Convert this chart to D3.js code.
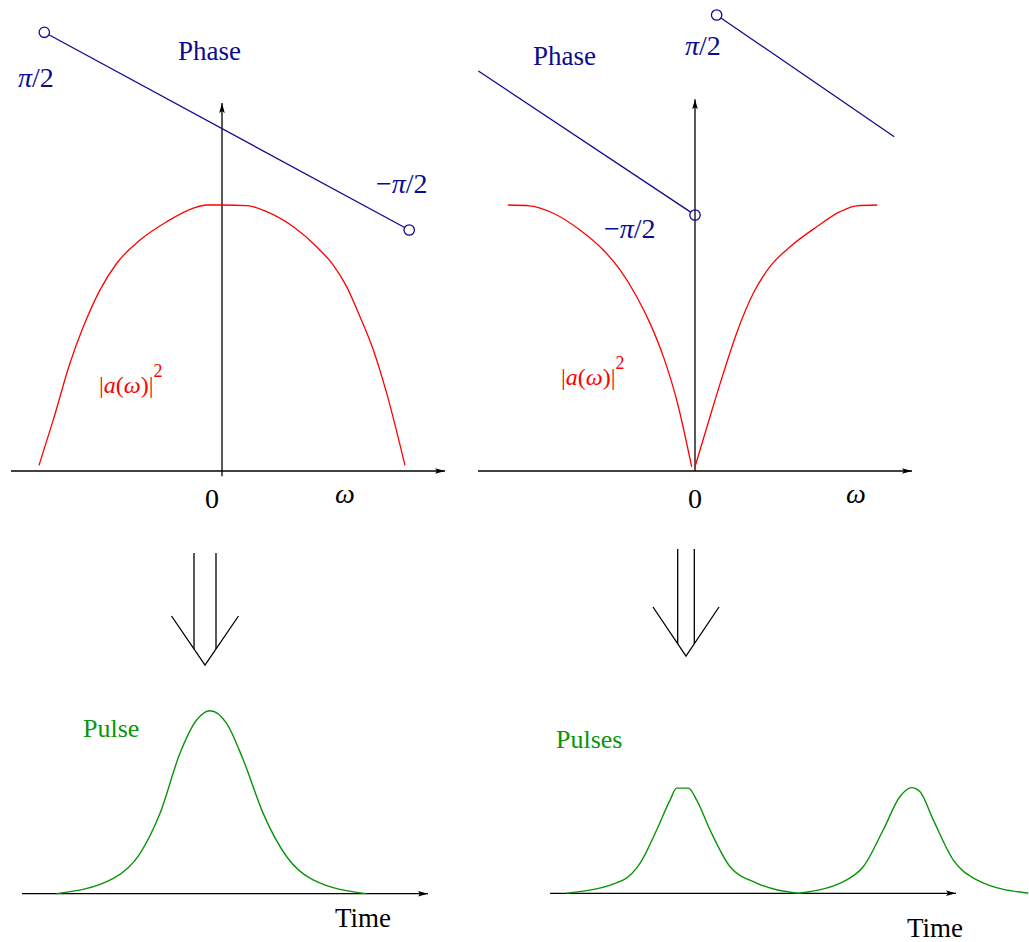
<!DOCTYPE html>
<html>
<head>
<meta charset="utf-8">
<script src="https://cdn.jsdelivr.net/npm/d3@7"></script>
<style>
  html, body { margin: 0; padding: 0; background: #fff; }
  svg { display: block; }
  text { font-family: "Liberation Serif", "Times New Roman", serif; }
</style>
</head>
<body>
<script>
// Spectral intensity |a(ω)|² (normalised) against frequency ω (panel units)
const spectrumSingle = [
  [-1.0, 0.021], [-0.922, 0.192], [-0.831, 0.405], [-0.758, 0.542], [-0.667, 0.68],
  [-0.575, 0.781], [-0.448, 0.868], [-0.302, 0.937], [-0.157, 0.988], [-0.084, 1.0],
  [0.0, 1.0], [0.135, 0.998], [0.244, 0.975], [0.39, 0.918], [0.517, 0.843],
  [0.608, 0.774], [0.681, 0.693], [0.754, 0.58], [0.827, 0.455], [0.9, 0.292], [1.0, 0.021]
];
const spectrumSplitNeg = [
  [-1.012, 1.0], [-0.892, 0.997], [-0.766, 0.969], [-0.622, 0.906], [-0.496, 0.831],
  [-0.405, 0.756], [-0.315, 0.655], [-0.243, 0.555], [-0.171, 0.43], [-0.099, 0.267], [-0.018, 0.016]
];
const spectrumSplitPos = [
  [0.0, 0.016], [0.081, 0.204], [0.153, 0.367], [0.225, 0.518], [0.315, 0.668],
  [0.405, 0.768], [0.514, 0.843], [0.658, 0.918], [0.784, 0.975], [0.874, 0.997], [0.985, 1.0]
];

// Spectral phase, in units of π
const phaseSingle = [[-0.971, 0.5], [1.023, -0.5]];
const phaseSplitLeft = [[-1.171, 0.22], [0.0, -0.5]];
const phaseSplitRight = [[0.117, 0.5], [1.077, -0.1085]];
const phaseMarksSingle = [[-0.971, 0.5], [1.023, -0.5]];
const phaseMarksSplit = [[0.0, -0.5], [0.117, 0.5]];

// Temporal intensity against time (panel units)
const pulseSingle = [
  [8.5, 0], [22.5, 0.084], [29.1, 0.221], [34.0, 0.439], [38.9, 0.767], [43.0, 0.949],
  [46.3, 1.0], [50.4, 0.931], [54.5, 0.731], [59.4, 0.439], [65.2, 0.202], [71.7, 0.075], [84.9, 0]
];
const pulseTrainA = [
  [4.1, 0], [18.1, 0.074], [22.2, 0.165], [26.3, 0.348], [29.6, 0.512], [31.2, 0.576],
  [34.1, 0.576], [36.1, 0.512], [39.4, 0.348], [44.3, 0.147], [50.9, 0.056], [61.2, 0]
];
const pulseTrainB = [
  [61.2, 0], [73.1, 0.074], [77.2, 0.147], [82.1, 0.348], [86.2, 0.53], [89.1, 0.579],
  [91.1, 0.557], [94.4, 0.402], [99.3, 0.183], [105.1, 0.074], [117.8, 0]
];

const BLUE = "#0c0c8e", RED = "#ff0000", GREEN = "#0a940a";
const W = 1029, H = 942;

const svg = d3.select("body").append("svg").attr("width", W).attr("height", H);

const defs = svg.append("defs");
defs.append("marker")
  .attr("id", "head").attr("markerUnits", "userSpaceOnUse")
  .attr("markerWidth", 12).attr("markerHeight", 8)
  .attr("refX", 10).attr("refY", 4).attr("orient", "auto")
  .append("path").attr("d", "M0,1.2 L10,4 L0,6.8 L2,4 Z").attr("fill", "#000");

// Scales
const xA = d3.scaleLinear().domain([-1, 1]).range([39, 405]);
const xB = d3.scaleLinear().domain([-1, 1]).range([510, 880]);
const yAmp = d3.scaleLinear().domain([0, 1]).range([471, 205]);
const yPhaseA = d3.scaleLinear().domain([-0.5, 0.5]).range([230, 32.3]);
const yPhaseB = d3.scaleLinear().domain([-0.5, 0.5]).range([215, 15]);
const tA = d3.scaleLinear().domain([0, 100]).range([22, 428]);
const tB = d3.scaleLinear().domain([0, 100]).range([550, 956]);
const yPulseA = d3.scaleLinear().domain([0, 1]).range([893.7, 710.7]);
const yPulseB = d3.scaleLinear().domain([0, 1]).range([893.3, 710.7]);

function curve(data, xs, ys, color, width, type) {
  svg.append("path")
    .datum(data)
    .attr("fill", "none").attr("stroke", color).attr("stroke-width", width)
    .attr("stroke-linejoin", "round")
    .attr("d", d3.line().x(d => xs(d[0])).y(d => ys(d[1])).curve(type || d3.curveMonotoneX));
}

function arrowAxis(x1, y1, x2, y2) {
  svg.append("line")
    .attr("x1", x1).attr("y1", y1).attr("x2", x2).attr("y2", y2)
    .attr("stroke", "#000").attr("stroke-width", 1.3)
    .attr("marker-end", "url(#head)");
}

function openMarks(data, xs, ys) {
  svg.append("g").selectAll("circle").data(data).join("circle")
    .attr("cx", d => xs(d[0])).attr("cy", d => ys(d[1])).attr("r", 5.2)
    .attr("fill", "none").attr("stroke", BLUE).attr("stroke-width", 1.3);
}

// Phase lines stop at the open circle outline
function phaseSegment(data, xs, ys, trimStart, trimEnd) {
  const p0 = [xs(data[0][0]), ys(data[0][1])];
  const p1 = [xs(data[1][0]), ys(data[1][1])];
  const dx = p1[0] - p0[0], dy = p1[1] - p0[1], L = Math.hypot(dx, dy);
  const ux = dx / L, uy = dy / L, r = 5.2;
  svg.append("line")
    .attr("x1", p0[0] + (trimStart ? ux * r : 0)).attr("y1", p0[1] + (trimStart ? uy * r : 0))
    .attr("x2", p1[0] - (trimEnd ? ux * r : 0)).attr("y2", p1[1] - (trimEnd ? uy * r : 0))
    .attr("stroke", BLUE).attr("stroke-width", 1.3);
}

function label(x, y, parts, color, size) {
  const t = svg.append("text").attr("x", x).attr("y", y)
    .attr("fill", color).attr("font-size", size);
  parts.forEach(p => {
    const s = t.append("tspan").text(p.t);
    if (p.i) s.attr("font-style", "italic");
    if (p.dy) s.attr("dy", p.dy);
    if (p.fs) s.attr("font-size", p.fs);
  });
  return t;
}

// ---------- Left spectrum panel ----------
arrowAxis(xA(-1.153), yAmp(0), xA(1.219), yAmp(0));
arrowAxis(xA(0), yAmp(-0.02), xA(0), yAmp(1.383));
curve(spectrumSingle, xA, yAmp, RED, 1.3);
phaseSegment(phaseSingle, xA, yPhaseA, true, true);
openMarks(phaseMarksSingle, xA, yPhaseA);

label(178, 60, [{t: "Phase"}], BLUE, 27);
label(18, 87, [{t: "π", i: true}, {t: "/2"}], BLUE, 28);
label(376, 193, [{t: "−"}, {t: "π", i: true}, {t: "/2"}], BLUE, 28);
label(99, 393, [{t: "|"}, {t: "a", i: true}, {t: "("}, {t: "ω", i: true}, {t: ")|"},
  {t: "2", dy: -16, fs: 18}], RED, 24);
label(205, 508, [{t: "0"}], "#000", 28);
label(335, 503, [{t: "ω", i: true}], "#000", 28);

// ---------- Right spectrum panel ----------
arrowAxis(xB(-1.173), yAmp(0), xB(1.173), yAmp(0));
arrowAxis(xB(0), yAmp(0), xB(0), yAmp(1.398));
curve(spectrumSplitNeg, xB, yAmp, RED, 1.3);
curve(spectrumSplitPos, xB, yAmp, RED, 1.3);
phaseSegment(phaseSplitLeft, xB, yPhaseB, false, true);
phaseSegment(phaseSplitRight, xB, yPhaseB, true, false);
openMarks(phaseMarksSplit, xB, yPhaseB);

label(533, 65, [{t: "Phase"}], BLUE, 27);
label(685, 55, [{t: "π", i: true}, {t: "/2"}], BLUE, 28);
label(604, 238, [{t: "−"}, {t: "π", i: true}, {t: "/2"}], BLUE, 28);
label(561, 385, [{t: "|"}, {t: "a", i: true}, {t: "("}, {t: "ω", i: true}, {t: ")|"},
  {t: "2", dy: -16, fs: 18}], RED, 24);
label(688, 508, [{t: "0"}], "#000", 28);
label(846, 503, [{t: "ω", i: true}], "#000", 28);

// ---------- Transform arrows ----------
function bigArrow(cx, half, top, tipY, wing, wingDrop) {
  const g = svg.append("g").attr("fill", "none").attr("stroke", "#000").attr("stroke-width", 1.3);
  const slope = wingDrop / wing;
  [-half, half].forEach(o => {
    const yEnd = tipY - (wing - (wing - Math.abs(o))) * 0 - slope * Math.abs(o);
    g.append("line").attr("x1", cx + o).attr("y1", top).attr("x2", cx + o).attr("y2", yEnd);
  });
  g.append("path").attr("d",
    `M${cx - wing},${tipY - wingDrop} L${cx},${tipY} L${cx + wing},${tipY - wingDrop}`);
}
bigArrow(205, 11, 553, 665, 33.5, 49);
bigArrow(686, 8.3, 549, 656, 33, 49);

// ---------- Left time panel ----------
arrowAxis(tA(0), yPulseA(0), tA(100), yPulseA(0));
curve(pulseSingle, tA, yPulseA, GREEN, 1.4);
label(83, 737, [{t: "Pulse"}], GREEN, 26);
label(335, 927, [{t: "Time"}], "#000", 27);

// ---------- Right time panel ----------
arrowAxis(tB(0), yPulseB(0), tB(100), yPulseB(0));
curve(pulseTrainA, tB, yPulseB, GREEN, 1.4);
curve(pulseTrainB, tB, yPulseB, GREEN, 1.4);
label(556, 748, [{t: "Pulses"}], GREEN, 26);
label(907, 937, [{t: "Time"}], "#000", 27);
</script>
</body>
</html>
